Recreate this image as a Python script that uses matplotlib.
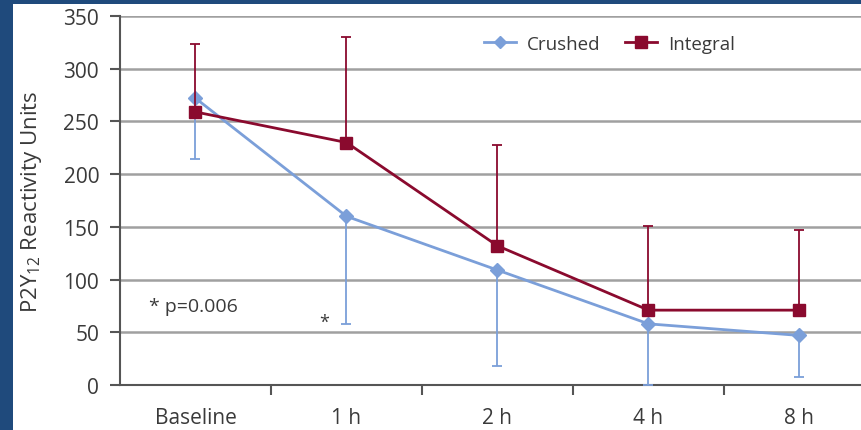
import matplotlib
matplotlib.use("Agg")
import matplotlib.pyplot as plt
from matplotlib.patches import Rectangle
from matplotlib.lines import Line2D

plt.rcParams['font.family'] = ['Open Sans', 'DejaVu Sans']

times = ["Baseline", "1 h", "2 h", "4 h", "8 h"]
crushed = [272, 160, 109, 58, 47]
crushed_err_low = [58, 102, 91, 58, 39]
integral = [259, 230, 132, 71, 71]
integral_err_up = [64, 100, 96, 80, 76]

blue = "#7b9fd9"
red = "#8a0a2e"
text_col = "#3a3a3a"
border = "#1f4a7c"

fig = plt.figure(figsize=(8.62, 4.31), dpi=100)
fig.patch.set_facecolor("white")
# dark frame along the left and top edges
fig.patches.append(Rectangle((0, 0), 13 / 862, 1, transform=fig.transFigure,
                             facecolor=border, edgecolor="none", zorder=-1))
fig.patches.append(Rectangle((0, (431 - 5) / 431), 1, 5 / 431,
                             transform=fig.transFigure, facecolor=border,
                             edgecolor="none", zorder=-1))

ax = fig.add_axes([120 / 862, 45 / 431, 755 / 862, 369 / 431])
ax.set_facecolor("white")
x = list(range(len(times)))

ax.errorbar(x, crushed, yerr=[crushed_err_low, [0] * 5], color=blue,
            lw=2, marker="D", markersize=7.5, capsize=3.5, elinewidth=1.3,
            capthick=1.3, zorder=3)
ax.errorbar(x, integral, yerr=[[0] * 5, integral_err_up], color=red,
            lw=2, marker="s", markersize=9, capsize=3.5, elinewidth=1.3,
            capthick=1.3, zorder=4)

ax.set_xlim(-0.5, 4.5)
ax.set_ylim(0, 350)
ax.set_yticks(range(0, 351, 50))
ax.yaxis.grid(True, color="#a0a0a0", lw=1.8)
ax.set_axisbelow(True)

ax.set_xticks(x)
ax.set_xticklabels(times)
ax.set_xticks([0.5, 1.5, 2.5, 3.5], minor=True)
ax.tick_params(axis="x", which="major", length=0, pad=16, labelsize=15,
               labelcolor=text_col)
ax.tick_params(axis="x", which="minor", length=7, width=1.5, color="#555555",
               direction="out")
ax.tick_params(axis="y", length=7, width=1.5, color="#555555",
               labelsize=15, labelcolor=text_col, pad=8)

for side in ["top", "right"]:
    ax.spines[side].set_visible(False)
for side in ["left", "bottom"]:
    ax.spines[side].set_color("#555555")
    ax.spines[side].set_linewidth(1.5)

ax.set_ylabel(r"P2Y$_{\mathregular{12}}$ Reactivity Units", fontsize=16,
              color=text_col, fontweight="medium")
ax.yaxis.set_label_coords(-0.1, 0.5)

ax.text(-0.31, 75, "* p=0.006", fontsize=14, color=text_col, va="center")
ax.text(0.82, 60, "*", fontsize=13, color=text_col, va="center")

handles = [
    Line2D([], [], color=blue, lw=2, marker="D", markersize=6),
    Line2D([], [], color=red, lw=2, marker="s", markersize=8),
]
ax.legend(handles, ["Crushed", "Integral"], loc="center",
          bbox_to_anchor=(0.648, 0.924), ncol=2, frameon=False, fontsize=13.5,
          handlelength=1.7, handletextpad=0.6, columnspacing=1.3,
          labelcolor=text_col)

fig.savefig("out.png", dpi=100, facecolor=fig.get_facecolor())
